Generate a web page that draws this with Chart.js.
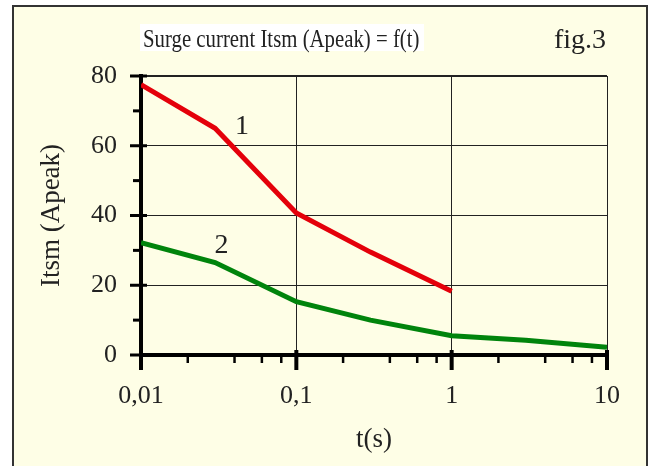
<!DOCTYPE html>
<html>
<head>
<meta charset="utf-8">
<title>Surge current Itsm</title>
<script src="https://cdn.jsdelivr.net/npm/chart.js@4"></script>
<style>
  html, body { margin: 0; padding: 0; background: #fff; }
  #wrap { width: 650px; height: 466px; position: relative; }
</style>
</head>
<body>
<div id="wrap"><canvas id="surgeChart"></canvas></div>
<script>
// tick labels
const xTicks = [0.01, 0.1, 1, 10];
const xTickLabels = ['0,01', '0,1', '1', '10'];
const yTicks = [0, 20, 40, 60, 80];

// curve 1 (red)
const time1 = [0.01, 0.03, 0.1, 0.3, 1];
const itsm1 = [77.5, 65, 40.7, 29.5, 18.3];

// curve 2 (green)
const time2 = [0.01, 0.03, 0.1, 0.3, 1, 3, 10];
const itsm2 = [32.2, 26.5, 15.3, 10, 5.5, 4.2, 2.2];

const serif = "'Liberation Serif', 'Times New Roman', serif";
const ink = '#222';

// cadre, titre, petites graduations et repères des courbes
const framePlugin = {
  id: 'frame',
  beforeDraw(chart) {
    const c = chart.ctx;
    c.save();
    c.fillStyle = '#fff';
    c.fillRect(0, 0, chart.width, chart.height);
    c.fillStyle = '#fefee6';
    c.fillRect(12, 5, 636, chart.height - 5);
    c.strokeStyle = '#333';
    c.lineWidth = 2;
    c.beginPath();
    c.moveTo(13, chart.height);
    c.lineTo(13, 6);
    c.lineTo(647, 6);
    c.lineTo(647, chart.height);
    c.stroke();

    // title box (texte un peu étroit comme l'original)
    c.fillStyle = '#fff';
    c.fillRect(140, 24, 284, 27);
    c.fillStyle = ink;
    c.textAlign = 'left';
    c.textBaseline = 'alphabetic';
    c.save();
    c.translate(143, 47);
    c.scale(0.8, 1);
    c.font = '26px ' + serif;
    c.fillText('Surge current Itsm (Apeak) = f(t)', 0, 0);
    c.restore();
    c.font = '28px ' + serif;
    c.fillText('fig.3', 554, 48);
    c.restore();
  },
  beforeDatasetsDraw(chart) {
    const c = chart.ctx;
    const xs = chart.scales.x, ys = chart.scales.y;
    const x0 = xs.left, y0 = ys.bottom;
    c.save();
    c.strokeStyle = '#000';
    // y graduations
    c.lineWidth = 3;
    yTicks.forEach(v => {
      const py = ys.getPixelForValue(v);
      c.beginPath(); c.moveTo(x0 - 11, py); c.lineTo(x0 + 6, py); c.stroke();
    });
    [10, 30, 50, 70].forEach(v => {
      const py = ys.getPixelForValue(v);
      c.beginPath(); c.moveTo(x0 - 8, py); c.lineTo(x0, py); c.stroke();
    });
    // x graduations
    c.lineWidth = 4;
    xTicks.forEach(v => {
      const px = xs.getPixelForValue(v);
      c.beginPath(); c.moveTo(px, y0 - 5); c.lineTo(px, y0 + 15); c.stroke();
    });
    c.lineWidth = 2.5;
    xTicks.slice(0, -1).forEach(d => {
      [2, 4, 6, 8].forEach(m => {
        const px = xs.getPixelForValue(d * m);
        c.beginPath(); c.moveTo(px, y0); c.lineTo(px, y0 + 8); c.stroke();
      });
    });
    c.restore();
  },
  afterDraw(chart) {
    const c = chart.ctx;
    const xs = chart.scales.x, ys = chart.scales.y;
    c.save();
    c.fillStyle = ink;
    c.font = '28px ' + serif;
    c.textAlign = 'center';
    c.textBaseline = 'middle';
    c.fillText('1', xs.getPixelForValue(0.0447), ys.getPixelForValue(65.5));
    c.fillText('2', xs.getPixelForValue(0.033), ys.getPixelForValue(31.5));
    c.restore();
  }
};

const ctx = document.getElementById('surgeChart');

new Chart(ctx, {
  type: 'line',
  data: {
    datasets: [
      {
        label: '1',
        data: time1.map((t, i) => ({ x: t, y: itsm1[i] })),
        borderColor: '#e4000a',
        borderWidth: 5,
        pointRadius: 0,
        tension: 0
      },
      {
        label: '2',
        data: time2.map((t, i) => ({ x: t, y: itsm2[i] })),
        borderColor: '#00840c',
        borderWidth: 5,
        pointRadius: 0,
        tension: 0
      }
    ]
  },
  options: {
    responsive: true,
    maintainAspectRatio: false,
    animation: false,
    layout: { padding: { top: 76, right: 43, left: 0, bottom: 0 } },
    plugins: {
      legend: { display: false },
      title: { display: false },
      tooltip: { enabled: false }
    },
    scales: {
      x: {
        type: 'logarithmic',
        min: 0.01,
        max: 10,
        afterBuildTicks: s => { s.ticks = xTicks.map(v => ({ value: v })); },
        afterFit: s => { s.height = 111; },
        ticks: {
          color: ink,
          font: { family: serif, size: 26 },
          padding: 26,
          maxRotation: 0,
          autoSkip: false,
          callback: (v, i) => xTickLabels[i]
        },
        grid: {
          color: c => (c.tick && c.tick.value === 0.01) ? 'rgba(0,0,0,0)' : ink,
          lineWidth: 1,
          drawTicks: false
        },
        border: { display: true, color: '#000', width: 4 },
        title: {
          display: true,
          text: 't(s)',
          color: ink,
          font: { family: serif, size: 27 },
          padding: { top: 0, bottom: 10 }
        }
      },
      y: {
        min: 0,
        max: 80,
        afterBuildTicks: s => { s.ticks = yTicks.map(v => ({ value: v })); },
        afterFit: s => { s.width = 141; },
        ticks: {
          color: ink,
          font: { family: serif, size: 26 },
          padding: 24
        },
        grid: {
          color: c => (c.tick && c.tick.value === 0) ? 'rgba(0,0,0,0)' : ink,
          lineWidth: c => (c.tick && c.tick.value === 80) ? 2 : 1,
          drawTicks: false
        },
        border: { display: true, color: '#000', width: 4 },
        title: {
          display: true,
          text: 'Itsm (Apeak)',
          color: ink,
          font: { family: serif, size: 27 },
          padding: { top: 36, bottom: 0 }
        }
      }
    }
  },
  plugins: [framePlugin]
});
</script>
</body>
</html>
